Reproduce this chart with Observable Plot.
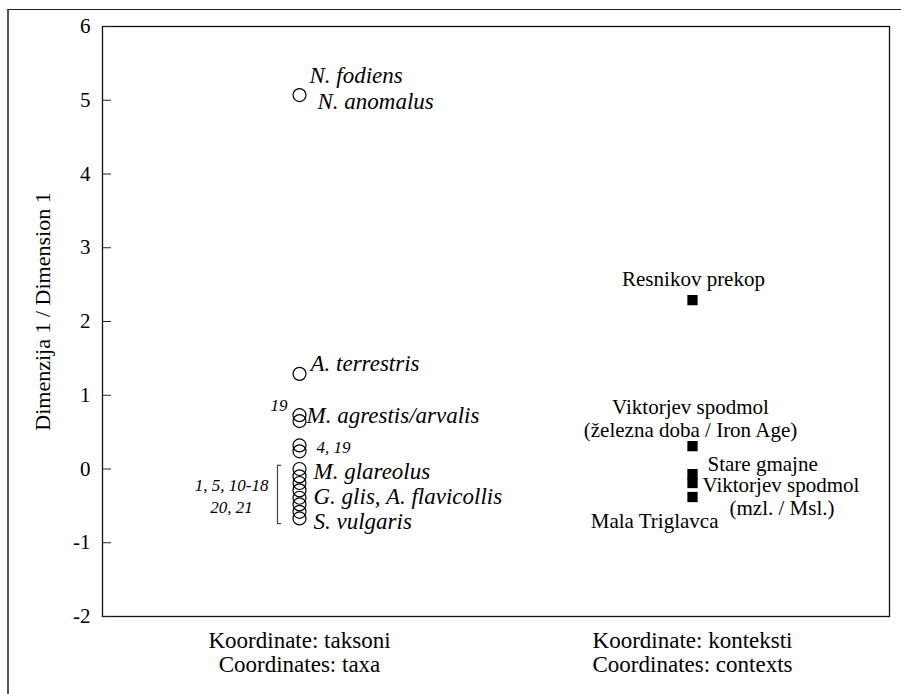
<!DOCTYPE html>
<html><head><meta charset="utf-8">
<script src="https://cdn.jsdelivr.net/npm/d3@7"></script>
<script src="https://cdn.jsdelivr.net/npm/@observablehq/plot@0.6"></script>
<style>
html,body{margin:0;padding:0;background:#fff;font-family:"Liberation Serif";font-size:21px;}
#wrap{position:relative;width:901px;height:694px;overflow:hidden;font-family:"Liberation Serif";}
#border{position:absolute;left:7px;top:9px;width:1000px;height:1000px;border-top:1.5px solid #222;border-left:2px solid #555;}
#chart{position:absolute;left:0;top:0;}
</style></head><body>
<div id="wrap"><div id="border"></div><div id="chart"></div></div>
<script>
// ---- data ----
const groups = ["taksoni", "konteksti"];
const groupLabels = ["Koordinate: taksoni\nCoordinates: taxa", "Koordinate: konteksti\nCoordinates: contexts"];
const yTicks = [-2, -1, 0, 1, 2, 3, 4, 5, 6];
const yLabel = "Dimenzija 1 / Dimension 1";

const taxonValues = [5.07, 1.29, 0.73, 0.65, 0.32, 0.24, 0.0, -0.1, -0.19, -0.29, -0.39, -0.48, -0.58, -0.67];

const contextNames = ["Resnikov prekop", "Viktorjev spodmol (železna doba / Iron Age)", "Stare gmajne", "Viktorjev spodmol (mzl. / Msl.)", "Mala Triglavca"];
const contextValues = [2.29, 0.31, -0.07, -0.19, -0.38];

const taxonLabelText = ["N. fodiens", "N. anomalus", "A. terrestris", "M. agrestis/arvalis", "M. glareolus", "G. glis, A. flavicollis", "S. vulgaris"];
const taxonLabelAt = [5.07, 5.07, 1.29, 0.69, 0.0, -0.33, -0.67];
const taxonNoteText = ["19", "4, 19", "1, 5, 10-18", "20, 21"];
const taxonNoteAt = [0.73, 0.28, -0.33, -0.33];
const bracketRange = [0.05, -0.74];

const contextLabelText = ["Resnikov prekop", "Viktorjev spodmol\n(železna doba / Iron Age)", "Stare gmajne", "Viktorjev spodmol", "(mzl. / Msl.)", "Mala Triglavca"];
const contextLabelAt = [2.29, 0.31, -0.07, -0.19, -0.19, -0.38];

// ---- layout (pixel offsets of annotations) ----
const taxonLabelLayout = [
  {dx: 10, dy: -19, a: "start"}, {dx: 18, dy: 7, a: "start"}, {dx: 11, dy: -10, a: "start"},
  {dx: 7, dy: -2, a: "start"}, {dx: 14, dy: 3, a: "start"}, {dx: 14, dy: 3, a: "start"}, {dx: 14, dy: 3, a: "start"}
];
const taxonNoteLayout = [
  {dx: -12, dy: -10, a: "end"}, {dx: 17, dy: -1, a: "start"}, {dx: -31, dy: -8, a: "end"}, {dx: -68, dy: 14, a: "middle"}
];
const contextLabelLayout = [
  {dx: 1, dy: -22, a: "middle"}, {dx: -2, dy: -28, a: "middle"}, {dx: 15, dy: -11, a: "start"},
  {dx: 10, dy: 2, a: "start"}, {dx: 37, dy: 25, a: "start"}, {dx: 26, dy: 24, a: "end"}
];

const FF = "Liberation Serif";
const taxaData = taxonValues.map(v => ({g: groups[0], v}));
const ctxData = contextValues.map((v, i) => ({g: groups[1], v, name: contextNames[i]}));

const marks = [
  Plot.frame({stroke: "#111", strokeWidth: 1.3}),
  Plot.axisY(yTicks, {tickSize: 0, tickPadding: 12, tickFormat: d => String(d), fontSize: 21, fontFamily: FF, label: null}),
  Plot.axisY(yTicks, {text: null, tickSize: -9, label: null, stroke: "#222"}),
  Plot.axisX(groups, {tickSize: 0, tickPadding: 15, tickFormat: d => groupLabels[groups.indexOf(d)], fontSize: 23, fontFamily: FF, lineHeight: 1.04, letterSpacing: "1.1px", label: null}),
  Plot.text([yLabel], {frameAnchor: "left", rotate: -90, dx: -60, dy: -10, textAnchor: "middle", lineAnchor: "middle", fontSize: 22, fontFamily: FF}),
  // bracket
  Plot.ruleX([0], {x: () => groups[0], y1: () => bracketRange[0], y2: () => bracketRange[1], dx: -22, stroke: "#444", strokeWidth: 1.2}),
  Plot.ruleY(bracketRange, {y: d => d, x1: () => groups[0], x2: () => groups[0], insetRight: -4, dx: -22, stroke: "#444", strokeWidth: 1.2}),
  Plot.dot(taxaData, {x: "g", y: "v", r: 6.5, stroke: "#000", fill: "none", strokeWidth: 1.2}),
  Plot.dot(ctxData, {x: "g", y: "v", symbol: "square", r: 5.8, fill: "#000", stroke: "none"}),
];
taxonLabelText.forEach((t, i) => {
  const L = taxonLabelLayout[i];
  marks.push(Plot.text([t], {x: () => groups[0], y: () => taxonLabelAt[i], text: d => d, dx: L.dx, dy: L.dy, textAnchor: L.a, fontSize: 23, fontStyle: "italic", fontFamily: FF}));
});
taxonNoteText.forEach((t, i) => {
  const L = taxonNoteLayout[i];
  marks.push(Plot.text([t], {x: () => groups[0], y: () => taxonNoteAt[i], text: d => d, dx: L.dx, dy: L.dy, textAnchor: L.a, fontSize: 17, fontStyle: "italic", fontFamily: FF}));
});
contextLabelText.forEach((t, i) => {
  const L = contextLabelLayout[i];
  marks.push(Plot.text([t], {x: () => groups[1], y: () => contextLabelAt[i], text: d => d, dx: L.dx, dy: L.dy, textAnchor: L.a, fontSize: 21, lineHeight: 1.1, fontFamily: FF}));
});

const chart = Plot.plot({
  width: 901, height: 694,
  marginLeft: 102, marginRight: 12, marginTop: 26, marginBottom: 78,
  style: {fontFamily: FF, fontSize: "21px", background: "transparent"},
  x: {type: "point", domain: groups, padding: 0.5},
  y: {domain: [-2, 6]},
  marks
});
document.getElementById("chart").appendChild(chart);
</script>
</body></html>
